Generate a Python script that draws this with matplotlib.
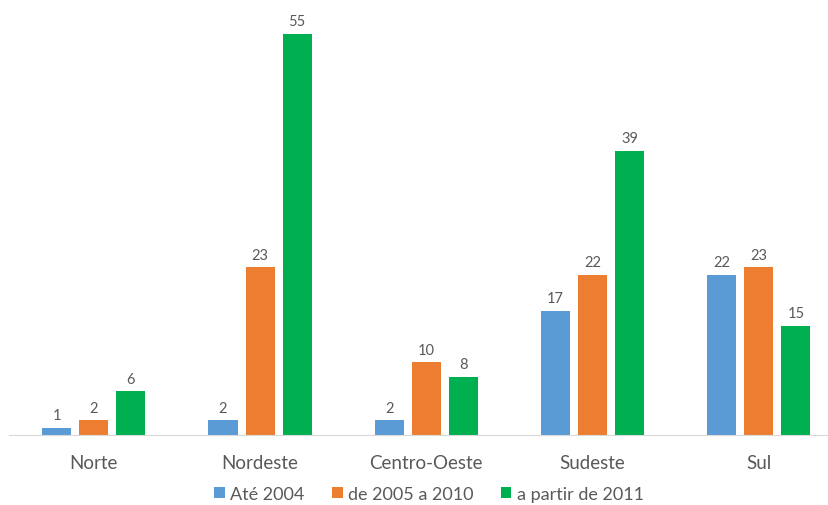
import numpy as np
import matplotlib.pyplot as plt

regions = ["Norte", "Nordeste", "Centro-Oeste", "Sudeste", "Sul"]
series_names = ["Até 2004", "de 2005 a 2010", "a partir de 2011"]
ate_2004 = [1, 2, 2, 17, 22]
de_2005_2010 = [2, 23, 10, 22, 23]
a_partir_2011 = [6, 55, 8, 39, 15]
colors = ["#5B9BD5", "#ED7D31", "#00B050"]

plt.rcParams['font.family'] = ['Lato', 'DejaVu Sans']

fig = plt.figure(figsize=(8.29, 5.06), dpi=100)
ax = fig.add_axes([9 / 829, 70 / 506, 818 / 829, 423 / 506])

x = np.arange(len(regions))
width = 0.175
offset = 0.223
for i, (vals, name) in enumerate(zip([ate_2004, de_2005_2010, a_partir_2011], series_names)):
    bars = ax.bar(x + (i - 1) * offset, vals, width, color=colors[i], label=name)
    ax.bar_label(bars, padding=4, fontsize=10.5, color="#595959")

ax.set_xlim(-0.51, 4.41)
ax.set_ylim(0, 58)
ax.set_yticks([])
for s in ["top", "right", "left"]:
    ax.spines[s].set_visible(False)
ax.spines["bottom"].set_color("#D9D9D9")
ax.set_xticks(x)
ax.set_xticklabels(regions, fontsize=13.5, color="#595959")
ax.tick_params(axis="x", length=0, pad=14)

fig.legend(loc="center", bbox_to_anchor=(429 / 829, 1 - 495 / 506), ncol=3, frameon=False,
           fontsize=13, labelcolor="#595959", handlelength=0.6, handleheight=0.6,
           handletextpad=0.3, columnspacing=1.5)

fig.savefig("out.png", dpi=100)
